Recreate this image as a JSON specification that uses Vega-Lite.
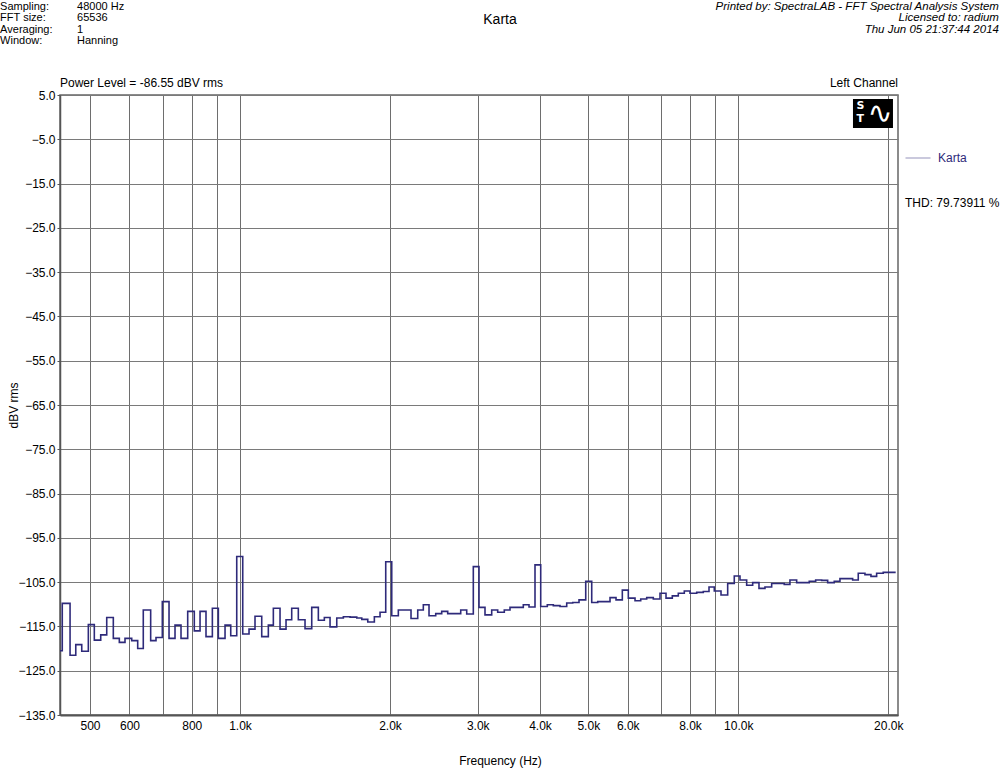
{
  "$schema": "https://vega.github.io/schema/vega-lite/v6.json",
  "width": 838,
  "height": 620,
  "autosize": {"type": "none"},
  "padding": {"left": 60, "top": 95, "right": 102, "bottom": 58},
  "background": "white",
  "config": {
    "font": "Liberation Sans",
    "view": {"stroke": "#666666", "strokeWidth": 1.5},
    "text": {"font": "Liberation Sans"}
  },
  "datasets": {
    "spectrum": [
      {"freq": 435.2, "dbv": -120.5}, {"freq": 439.8, "dbv": -109.8}, {"freq": 455.9, "dbv": -121.5}, {"freq": 468.1, "dbv": -119.1},
      {"freq": 481.2, "dbv": -120.6}, {"freq": 496.1, "dbv": -114.6}, {"freq": 510.0, "dbv": -118.1}, {"freq": 525.3, "dbv": -116.9},
      {"freq": 540.1, "dbv": -113.0}, {"freq": 556.8, "dbv": -117.7}, {"freq": 572.5, "dbv": -118.6}, {"freq": 587.7, "dbv": -117.7},
      {"freq": 606.2, "dbv": -118.2}, {"freq": 623.2, "dbv": -120.0}, {"freq": 639.5, "dbv": -111.3}, {"freq": 661.7, "dbv": -118.2},
      {"freq": 678.2, "dbv": -117.5}, {"freq": 698.3, "dbv": -109.4}, {"freq": 720.3, "dbv": -117.7}, {"freq": 740.5, "dbv": -114.7},
      {"freq": 761.3, "dbv": -117.7}, {"freq": 785.2, "dbv": -111.6}, {"freq": 809.5, "dbv": -116.0}, {"freq": 831.3, "dbv": -111.6},
      {"freq": 854.5, "dbv": -117.3}, {"freq": 880.0, "dbv": -110.9}, {"freq": 904.7, "dbv": -117.7}, {"freq": 933.1, "dbv": -114.7},
      {"freq": 958.0, "dbv": -117.1}, {"freq": 984.9, "dbv": -99.2}, {"freq": 1012.6, "dbv": -116.7}, {"freq": 1042.5, "dbv": -115.6},
      {"freq": 1071.7, "dbv": -112.7}, {"freq": 1105.5, "dbv": -117.3}, {"freq": 1139.8, "dbv": -114.7}, {"freq": 1166.5, "dbv": -110.9},
      {"freq": 1203.1, "dbv": -115.6}, {"freq": 1236.9, "dbv": -113.5}, {"freq": 1269.8, "dbv": -110.9}, {"freq": 1309.2, "dbv": -113.5},
      {"freq": 1350.4, "dbv": -115.5}, {"freq": 1392.9, "dbv": -110.7}, {"freq": 1436.1, "dbv": -113.6}, {"freq": 1476.5, "dbv": -113.0},
      {"freq": 1515.9, "dbv": -115.1}, {"freq": 1563.7, "dbv": -113.1}, {"freq": 1612.1, "dbv": -112.8}, {"freq": 1662.9, "dbv": -112.9},
      {"freq": 1715.2, "dbv": -113.1}, {"freq": 1755.3, "dbv": -113.4}, {"freq": 1804.6, "dbv": -114.0}, {"freq": 1860.4, "dbv": -112.8},
      {"freq": 1910.0, "dbv": -111.8}, {"freq": 1960.8, "dbv": -100.4}, {"freq": 2016.0, "dbv": -112.6}, {"freq": 2078.4, "dbv": -111.3},
      {"freq": 2143.7, "dbv": -111.3}, {"freq": 2203.9, "dbv": -113.2}, {"freq": 2273.3, "dbv": -111.3}, {"freq": 2332.8, "dbv": -110.1},
      {"freq": 2395.0, "dbv": -112.6}, {"freq": 2470.3, "dbv": -112.1}, {"freq": 2539.7, "dbv": -111.6}, {"freq": 2611.1, "dbv": -112.1},
      {"freq": 2692.0, "dbv": -112.1}, {"freq": 2772.8, "dbv": -111.3}, {"freq": 2850.8, "dbv": -112.2}, {"freq": 2939.1, "dbv": -101.5},
      {"freq": 3017.5, "dbv": -110.7}, {"freq": 3102.2, "dbv": -112.4}, {"freq": 3199.7, "dbv": -111.3}, {"freq": 3289.6, "dbv": -111.8},
      {"freq": 3391.6, "dbv": -111.3}, {"freq": 3482.2, "dbv": -110.7}, {"freq": 3591.7, "dbv": -110.7}, {"freq": 3703.0, "dbv": -110.1},
      {"freq": 3801.9, "dbv": -110.6}, {"freq": 3908.7, "dbv": -101.1}, {"freq": 4013.1, "dbv": -110.5}, {"freq": 4137.4, "dbv": -110.1},
      {"freq": 4253.8, "dbv": -110.3}, {"freq": 4387.6, "dbv": -110.5}, {"freq": 4525.5, "dbv": -109.7}, {"freq": 4652.7, "dbv": -109.6},
      {"freq": 4790.3, "dbv": -109.0}, {"freq": 4941.1, "dbv": -104.8}, {"freq": 5079.9, "dbv": -109.6}, {"freq": 5222.8, "dbv": -109.4},
      {"freq": 5384.6, "dbv": -109.4}, {"freq": 5528.4, "dbv": -108.5}, {"freq": 5683.8, "dbv": -109.0}, {"freq": 5851.6, "dbv": -106.8},
      {"freq": 6016.1, "dbv": -108.6}, {"freq": 6205.5, "dbv": -109.2}, {"freq": 6370.9, "dbv": -108.8}, {"freq": 6549.3, "dbv": -108.5},
      {"freq": 6752.4, "dbv": -108.8}, {"freq": 6964.9, "dbv": -107.5}, {"freq": 7160.6, "dbv": -108.6}, {"freq": 7372.2, "dbv": -108.1},
      {"freq": 7579.4, "dbv": -107.5}, {"freq": 7792.5, "dbv": -107.0}, {"freq": 8000.6, "dbv": -107.5}, {"freq": 8252.4, "dbv": -107.3},
      {"freq": 8507.6, "dbv": -107.1}, {"freq": 8734.8, "dbv": -106.1}, {"freq": 8951.2, "dbv": -107.0}, {"freq": 9233.0, "dbv": -107.9},
      {"freq": 9522.1, "dbv": -105.3}, {"freq": 9816.7, "dbv": -103.6}, {"freq": 10079, "dbv": -104.5}, {"freq": 10395, "dbv": -105.7},
      {"freq": 10688, "dbv": -105.1}, {"freq": 11004, "dbv": -106.4}, {"freq": 11313, "dbv": -106.1}, {"freq": 11668, "dbv": -105.3},
      {"freq": 11996, "dbv": -105.3}, {"freq": 12367, "dbv": -105.5}, {"freq": 12697, "dbv": -104.5}, {"freq": 13097, "dbv": -105.1},
      {"freq": 13503, "dbv": -105.1}, {"freq": 13882, "dbv": -104.8}, {"freq": 14299, "dbv": -104.5}, {"freq": 14701, "dbv": -104.6},
      {"freq": 15114, "dbv": -105.1}, {"freq": 15582, "dbv": -104.8}, {"freq": 15998, "dbv": -104.2}, {"freq": 16501, "dbv": -104.2},
      {"freq": 16965, "dbv": -104.5}, {"freq": 17410, "dbv": -103.0}, {"freq": 17957, "dbv": -103.3}, {"freq": 18462, "dbv": -103.7},
      {"freq": 18953, "dbv": -103.0}, {"freq": 19540, "dbv": -102.8}, {"freq": 19997, "dbv": -102.8}, {"freq": 20697, "dbv": -102.8}
    ]
  },
  "layer": [
    {
      "data": {"name": "spectrum"},
      "mark": {"type": "line", "interpolate": "step-after", "strokeWidth": 1.6},
      "encoding": {
        "x": {
          "field": "freq", "type": "quantitative",
          "scale": {"type": "log", "domain": [435.2, 20920], "nice": false},
          "axis": {
            "values": [500, 600, 700, 800, 900, 1000, 2000, 3000, 4000, 5000, 6000, 7000, 8000, 9000, 10000, 20000],
            "labelExpr": "indexof([700, 900, 7000, 9000], datum.value) >= 0 ? '' : (datum.value >= 1000 ? format(datum.value / 1000, '.1f') + 'k' : format(datum.value, 'd'))",
            "title": "Frequency (Hz)",
            "grid": true, "gridColor": "#6e6e6e", "gridWidth": 1, "gridOpacity": 1,
            "ticks": false,
            "domainColor": "#555555", "domainWidth": 2,
            "labelFontSize": 12, "labelColor": "#000000", "labelPadding": 5,
            "labelFlush": false, "labelOverlap": false,
            "titleFontSize": 12, "titleFontWeight": "normal", "titleColor": "#000000",
            "titleX": 440, "titleY": 45, "titleAlign": "center", "titleBaseline": "middle"
          }
        },
        "y": {
          "field": "dbv", "type": "quantitative",
          "scale": {"domain": [-135, 5], "nice": false, "zero": false},
          "axis": {
            "values": [5, -5, -15, -25, -35, -45, -55, -65, -75, -85, -95, -105, -115, -125, -135],
            "format": ".1f",
            "title": "dBV rms",
            "grid": true, "gridColor": "#7a7a7a", "gridWidth": 1, "gridOpacity": 1,
            "tickColor": "#555555", "tickSize": 3,
            "domainColor": "#555555", "domainWidth": 1.5,
            "labelFontSize": 12, "labelColor": "#000000", "labelPadding": 2,
            "titleFontSize": 12, "titleFontWeight": "normal", "titleColor": "#000000",
            "titleX": -47, "titleY": 310, "titleAngle": -90, "titleAlign": "center", "titleBaseline": "middle"
          }
        },
        "color": {
          "datum": "Karta", "type": "nominal",
          "scale": {"range": ["#2e2a7a"]},
          "legend": {
            "title": null, "orient": "none", "legendX": 845, "legendY": 50, "padding": 0,
            "symbolType": "stroke", "symbolSize": 625, "symbolStrokeWidth": 1, "symbolOpacity": 0.5,
            "labelFontSize": 12, "labelColor": "#2e2a7a", "labelOffset": 7
          }
        }
      }
    },
    {
      "data": {"values": [{}]},
      "mark": {"type": "text", "text": "Power Level = -86.55 dBV rms", "align": "left", "baseline": "middle", "fontSize": 12, "color": "#000000"},
      "encoding": {
        "x": {"datum": 435.2, "type": "quantitative"},
        "y": {"datum": 7.7, "type": "quantitative"}
      }
    },
    {
      "data": {"values": [{}]},
      "mark": {"type": "text", "text": "Left Channel", "align": "right", "baseline": "middle", "fontSize": 12, "color": "#000000"},
      "encoding": {
        "x": {"datum": 20920, "type": "quantitative"},
        "y": {"datum": 7.7, "type": "quantitative"}
      }
    },
    {
      "data": {"values": [{}]},
      "mark": {"type": "text", "text": "THD: 79.73911 %", "align": "left", "baseline": "middle", "fontSize": 12, "color": "#000000"},
      "encoding": {
        "x": {"datum": 21610, "type": "quantitative"},
        "y": {"datum": -19.4, "type": "quantitative"}
      }
    },
    {
      "data": {"values": [{}]},
      "mark": {"type": "text", "text": "Karta", "align": "center", "baseline": "middle", "fontSize": 14, "color": "#000000"},
      "encoding": {
        "x": {"datum": 3325, "type": "quantitative"},
        "y": {"datum": 21.9, "type": "quantitative"}
      }
    },
    {
      "data": {"values": [{}]},
      "mark": {"type": "text", "text": ["Sampling:", "FFT size:", "Averaging:", "Window:"], "align": "left", "baseline": "top", "fontSize": 11, "lineHeight": 11.3, "color": "#000000"},
      "encoding": {
        "x": {"datum": 330.0, "type": "quantitative"},
        "y": {"datum": 26.2, "type": "quantitative"}
      }
    },
    {
      "data": {"values": [{}]},
      "mark": {"type": "text", "text": ["48000 Hz", "65536", "1", "Hanning"], "align": "left", "baseline": "top", "fontSize": 11, "lineHeight": 11.3, "color": "#000000"},
      "encoding": {
        "x": {"datum": 470.9, "type": "quantitative"},
        "y": {"datum": 26.2, "type": "quantitative"}
      }
    },
    {
      "data": {"values": [{}]},
      "mark": {"type": "text", "text": ["Printed by: SpectraLAB - FFT Spectral Analysis System", "Licensed to: radium", "Thu Jun 05 21:37:44 2014"], "align": "right", "baseline": "top", "fontSize": 11.5, "lineHeight": 11.3, "fontStyle": "italic", "color": "#000000"},
      "encoding": {
        "x": {"datum": 33355, "type": "quantitative"},
        "y": {"datum": 26.2, "type": "quantitative"}
      }
    },
    {
      "data": {"values": [{}]},
      "mark": {"type": "rect", "color": "#000000"},
      "encoding": {
        "x": {"datum": 16990, "type": "quantitative"},
        "x2": {"datum": 20440},
        "y": {"datum": 4.1, "type": "quantitative"},
        "y2": {"datum": -2.45}
      }
    },
    {
      "data": {"values": [{}]},
      "mark": {"type": "text", "text": "S", "align": "center", "baseline": "middle", "fontSize": 11, "fontWeight": "bold", "color": "#ffffff", "font": "DejaVu Sans"},
      "encoding": {
        "x": {"datum": 17580, "type": "quantitative"},
        "y": {"datum": 2.5, "type": "quantitative"}
      }
    },
    {
      "data": {"values": [{}]},
      "mark": {"type": "text", "text": "T", "align": "center", "baseline": "middle", "fontSize": 11, "fontWeight": "bold", "color": "#ffffff", "font": "DejaVu Sans"},
      "encoding": {
        "x": {"datum": 17580, "type": "quantitative"},
        "y": {"datum": -0.5, "type": "quantitative"}
      }
    },
    {
      "data": {"values": [{}]},
      "mark": {"type": "text", "text": "∿", "align": "center", "baseline": "middle", "fontSize": 30, "color": "#ffffff", "font": "DejaVu Sans"},
      "encoding": {
        "x": {"datum": 19250, "type": "quantitative"},
        "y": {"datum": 0.8, "type": "quantitative"}
      }
    }
  ]
}
